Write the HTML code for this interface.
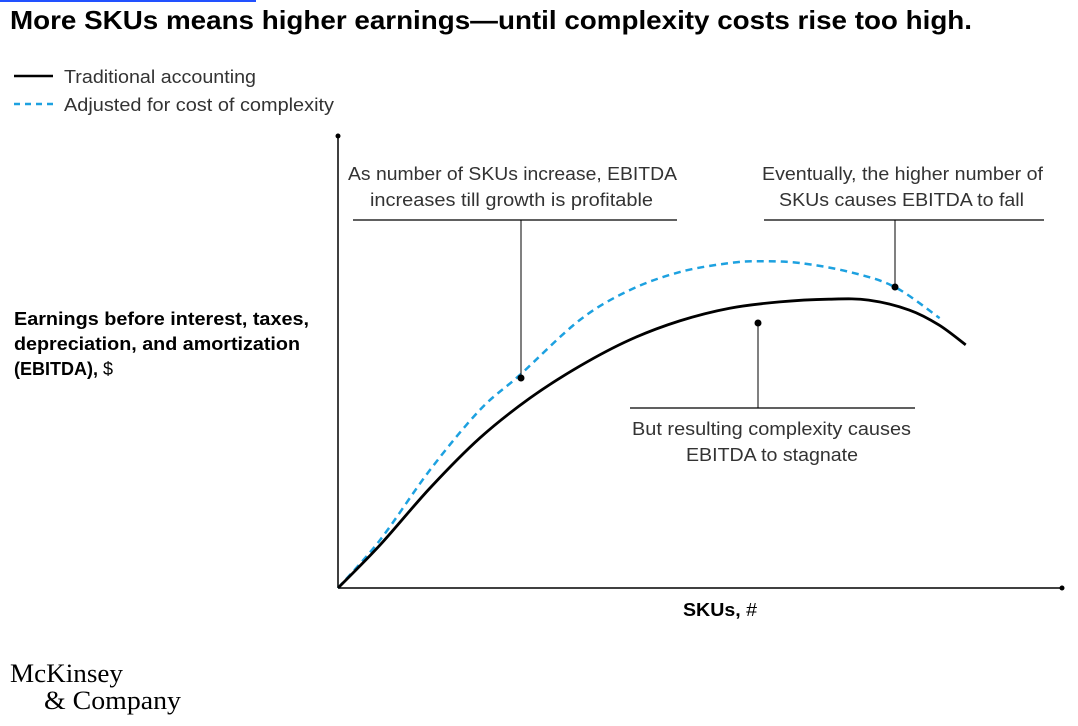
<!DOCTYPE html>
<html><head><meta charset="utf-8"><style>
body{margin:0;background:#fff;font-family:"Liberation Sans",sans-serif;}
svg text{font-family:"Liberation Sans",sans-serif;}
</style></head><body>
<svg width="1078" height="721" viewBox="0 0 1078 721">
<rect x="0" y="0" width="256" height="2" fill="#2251ff"/>
<text x="10" y="29" font-size="26" font-weight="bold" fill="#000" textLength="962" lengthAdjust="spacingAndGlyphs">More SKUs means higher earnings—until complexity costs rise too high.</text>
<g>
<line x1="14" y1="76" x2="53" y2="76" stroke="#000" stroke-width="2.5"/>
<text x="64" y="83" font-size="18" fill="#333" textLength="192" lengthAdjust="spacingAndGlyphs">Traditional accounting</text>
<line x1="14" y1="104" x2="53" y2="104" stroke="#1da1e0" stroke-width="2.5" stroke-dasharray="6,5"/>
<text x="64" y="111" font-size="18" fill="#333" textLength="270" lengthAdjust="spacingAndGlyphs">Adjusted for cost of complexity</text>
</g>
<g font-size="18" fill="#000">
<text x="14" y="325" font-weight="bold" textLength="295" lengthAdjust="spacingAndGlyphs">Earnings before interest, taxes,</text>
<text x="14" y="350" font-weight="bold" textLength="286" lengthAdjust="spacingAndGlyphs">depreciation, and amortization</text>
<text x="14" y="375"><tspan font-weight="bold">(EBITDA),</tspan> $</text>
</g>
<line x1="338" y1="588" x2="338" y2="136" stroke="#000" stroke-width="1.5"/>
<circle cx="338" cy="136" r="2.5" fill="#000"/>
<line x1="338" y1="588" x2="1062" y2="588" stroke="#000" stroke-width="1.5"/>
<circle cx="1062" cy="588" r="2.5" fill="#000"/>
<text x="683" y="616" font-size="18" textLength="74" lengthAdjust="spacingAndGlyphs"><tspan font-weight="bold">SKUs,</tspan> #</text>
<g id="series"></g>
<g font-size="18" fill="#333">
<text x="348" y="180" textLength="329" lengthAdjust="spacingAndGlyphs">As number of SKUs increase, EBITDA</text>
<text x="370" y="206" textLength="283" lengthAdjust="spacingAndGlyphs">increases till growth is profitable</text>
<line x1="353" y1="220" x2="677" y2="220" stroke="#000" stroke-width="1.2"/>
<line x1="521" y1="220" x2="521" y2="378" stroke="#000" stroke-width="1"/>
<circle cx="521" cy="378" r="3.5" fill="#000"/>
<text x="762" y="180" textLength="281" lengthAdjust="spacingAndGlyphs">Eventually, the higher number of</text>
<text x="779" y="206" textLength="245" lengthAdjust="spacingAndGlyphs">SKUs causes EBITDA to fall</text>
<line x1="764" y1="220" x2="1044" y2="220" stroke="#000" stroke-width="1.2"/>
<line x1="895" y1="220" x2="895" y2="287" stroke="#000" stroke-width="1"/>
<circle cx="895" cy="287" r="3.5" fill="#000"/>
<line x1="758" y1="323" x2="758" y2="408" stroke="#000" stroke-width="1"/>
<circle cx="758" cy="323" r="3.5" fill="#000"/>
<line x1="630" y1="408" x2="915" y2="408" stroke="#000" stroke-width="1.2"/>
<text x="632" y="435" textLength="279" lengthAdjust="spacingAndGlyphs">But resulting complexity causes</text>
<text x="686" y="461" textLength="172" lengthAdjust="spacingAndGlyphs">EBITDA to stagnate</text>
</g>
<g font-size="26" fill="#000">
<text x="10" y="682" style="font-family:'Liberation Serif',serif" textLength="113" lengthAdjust="spacingAndGlyphs">McKinsey</text>
<text x="44" y="709" style="font-family:'Liberation Serif',serif" textLength="137" lengthAdjust="spacingAndGlyphs">&amp; Company</text>
</g>
</svg>
<script>
const tradX=[0,5.8,12.7,19.6,26.5,33.4,40.3,47.2,54.1,61,67.8,73.3,78.9,83,86.7];
const tradY=[0,9.5,22.1,33.2,42,49.1,54.9,59.1,61.9,63.3,63.9,63.7,61.5,58.2,53.8];
const adjX=[0,5.8,12.7,19.6,25.1,33.4,40.3,47.2,54.1,58.3,63.8,70.7,76.9,83.1];
const adjY=[0,10.6,26.1,39.4,47.1,59.3,65.9,69.9,71.9,72.3,71.9,69.9,66.6,59.7];
function sx(v){return 338+v*7.24;}
function sy(v){return 588-v*4.52;}
function path(xs,ys){
  const p=xs.map((x,i)=>[sx(x),sy(ys[i])]);
  let d='M'+p[0][0]+','+p[0][1];
  for(let i=0;i<p.length-1;i++){
    const p0=p[Math.max(0,i-1)],p1=p[i],p2=p[i+1],p3=p[Math.min(p.length-1,i+2)];
    const c1=[p1[0]+(p2[0]-p0[0])/6,p1[1]+(p2[1]-p0[1])/6];
    const c2=[p2[0]-(p3[0]-p1[0])/6,p2[1]-(p3[1]-p1[1])/6];
    d+=' C'+c1+' '+c2+' '+p2;
  }
  return d;
}
const g=document.getElementById('series');
const ns='http://www.w3.org/2000/svg';
const a=document.createElementNS(ns,'path');
a.setAttribute('d',path(adjX,adjY));
a.setAttribute('fill','none');a.setAttribute('stroke','#1da1e0');a.setAttribute('stroke-width','2.5');a.setAttribute('stroke-dasharray','7,5');


g.appendChild(a);
const t=document.createElementNS(ns,'path');
t.setAttribute('d',path(tradX,tradY));
t.setAttribute('fill','none');t.setAttribute('stroke','#000');t.setAttribute('stroke-width','2.8');


g.appendChild(t);
</script>
</body></html>
